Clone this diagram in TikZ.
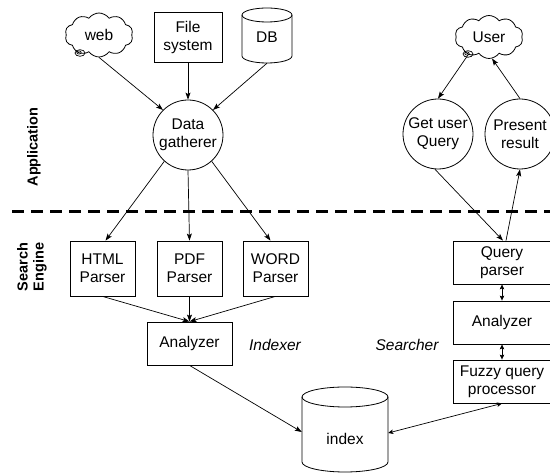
\documentclass[tikz,border=0pt]{standalone}
\usepackage{fontspec}
\setmainfont{Liberation Sans}
\usetikzlibrary{shapes.geometric,shapes.symbols,arrows.meta}
\begin{document}
\begin{tikzpicture}[x=1pt,y=1pt,
  font=\fontsize{15.5}{18}\selectfont,
  every node/.style={inner sep=0pt, align=center},
  box/.style={draw, line width=0.8pt},
  circ/.style={draw, circle, line width=0.8pt, minimum size=70pt},
  cl/.style={draw, cloud, cloud puffs=10, cloud puff arc=110, aspect=1.6, line width=0.8pt},
  lbl/.style={font=\fontsize{14.5}{16}\selectfont\bfseries, rotate=90},
  itl/.style={font=\fontsize{15.5}{18}\selectfont\itshape},
  conn/.style={line width=0.7pt, -{Stealth[length=7pt,width=5pt,inset=1.5pt]}},
  dconn/.style={line width=0.7pt, {Stealth[length=5pt,width=4.5pt,inset=1pt]}-{Stealth[length=5pt,width=4.5pt,inset=1pt]}},
  plain/.style={line width=0.7pt}]
\useasboundingbox (0,0) rectangle (550,476);

% top sources
\node[cl, minimum width=68pt, minimum height=44pt] (web) at (99,441) {web};
\draw[line width=0.7pt] (80,423) ellipse [x radius=5, y radius=3.3];
\draw[line width=0.7pt] (79,423.5) ellipse [x radius=2.2, y radius=1.6];
\node[box, minimum width=68pt, minimum height=50pt] (fs) at (188,439) {File\\system};
% DB cylinder
\draw[line width=0.8pt] (242,461) -- (242,420) arc[start angle=180,end angle=360,x radius=25,y radius=7] -- (292,461);
\draw[line width=0.8pt] (267,461) ellipse [x radius=25, y radius=7];
\node[minimum width=50pt, minimum height=52pt] (db) at (267,439) {DB};

\node[circ] (gath) at (188,341) {Data\\gatherer};

\draw[conn] (web.south) -- (gath.135);
\draw[conn] (fs.south) -- (gath.north);
\draw[conn] (db.south) -- (gath.45);

% labels
\node[lbl] (app) at (34,329) {Application};
\node[lbl, align=center] (se) at (32,209) {Search\\Engine};

% dashed separator
\coordinate (dl) at (12,264);
\coordinate (dr) at (550,264);
\draw[line width=3pt, dash pattern=on 12pt off 7pt] (dl) -- (dr);

% parsers
\node[box, minimum width=65pt, minimum height=55pt] (html) at (102.5,207.5) {HTML\\Parser};
\node[box, minimum width=65pt, minimum height=55pt] (pdf) at (189.5,207.5) {PDF\\Parser};
\node[box, minimum width=65pt, minimum height=55pt] (word) at (275.5,207.5) {WORD\\Parser};

\draw[conn] (gath.228) -- ([xshift=3pt]html.north);
\draw[conn] (gath.south) -- (pdf.north);
\draw[conn] (gath.312) -- ([xshift=-5pt]word.north);

\node[box, minimum width=85pt, minimum height=43pt] (anl) at (189.5,132.5) {Analyzer};
\draw[conn] (html.south) -- (anl.north);
\draw[conn] (pdf.south) -- (anl.north);
\draw[conn] (word.south) -- (anl.north);

\node[itl] (indexer) at (275,131) {Indexer};
\node[itl] (searcher) at (407,131) {Searcher};

% index cylinder
\draw[line width=0.8pt] (302,79) -- (302,14) arc[start angle=180,end angle=360,x radius=43,y radius=10] -- (388,79);
\draw[line width=0.8pt] (345,79) ellipse [x radius=43, y radius=10];
\node[minimum width=86pt, minimum height=60pt] (index) at (345,37) {index};

\draw[conn] (anl.south) -- ([yshift=7pt]index.west);

% searcher side
\node[cl, minimum width=68pt, minimum height=43pt] (user) at (489,439) {User};
\draw[line width=0.7pt] (468,422) ellipse [x radius=5, y radius=3.3];
\draw[line width=0.7pt] (467,422.5) ellipse [x radius=2.2, y radius=1.6];
\coordinate (utail) at (468,421);

\node[circ] (gu) at (438,342) {Get user\\Query};
\node[circ] (pr) at (520,342) {Present\\result};

\draw[conn] (utail) -- (gu.north);
\draw[conn] (pr.north) -- (user.-82);

\node[box, minimum width=98pt, minimum height=43pt] (qp) at (502,213.5) {Query\\parser};
\node[box, minimum width=98pt, minimum height=43pt] (anr) at (502,153.5) {Analyzer};
\node[box, minimum width=98pt, minimum height=43pt] (fz) at (502,94.5) {Fuzzy query\\processor};

\draw[conn] (gu.265) -- ([xshift=1pt]qp.north);
\draw[conn] ([xshift=4pt]qp.north) -- (pr.south);
\draw[dconn] (qp.south) -- (anr.north);
\draw[dconn] (anr.south) -- (fz.north);
\draw[dconn] ([yshift=6pt]index.east) -- (fz.south);
\end{tikzpicture}
\end{document}
